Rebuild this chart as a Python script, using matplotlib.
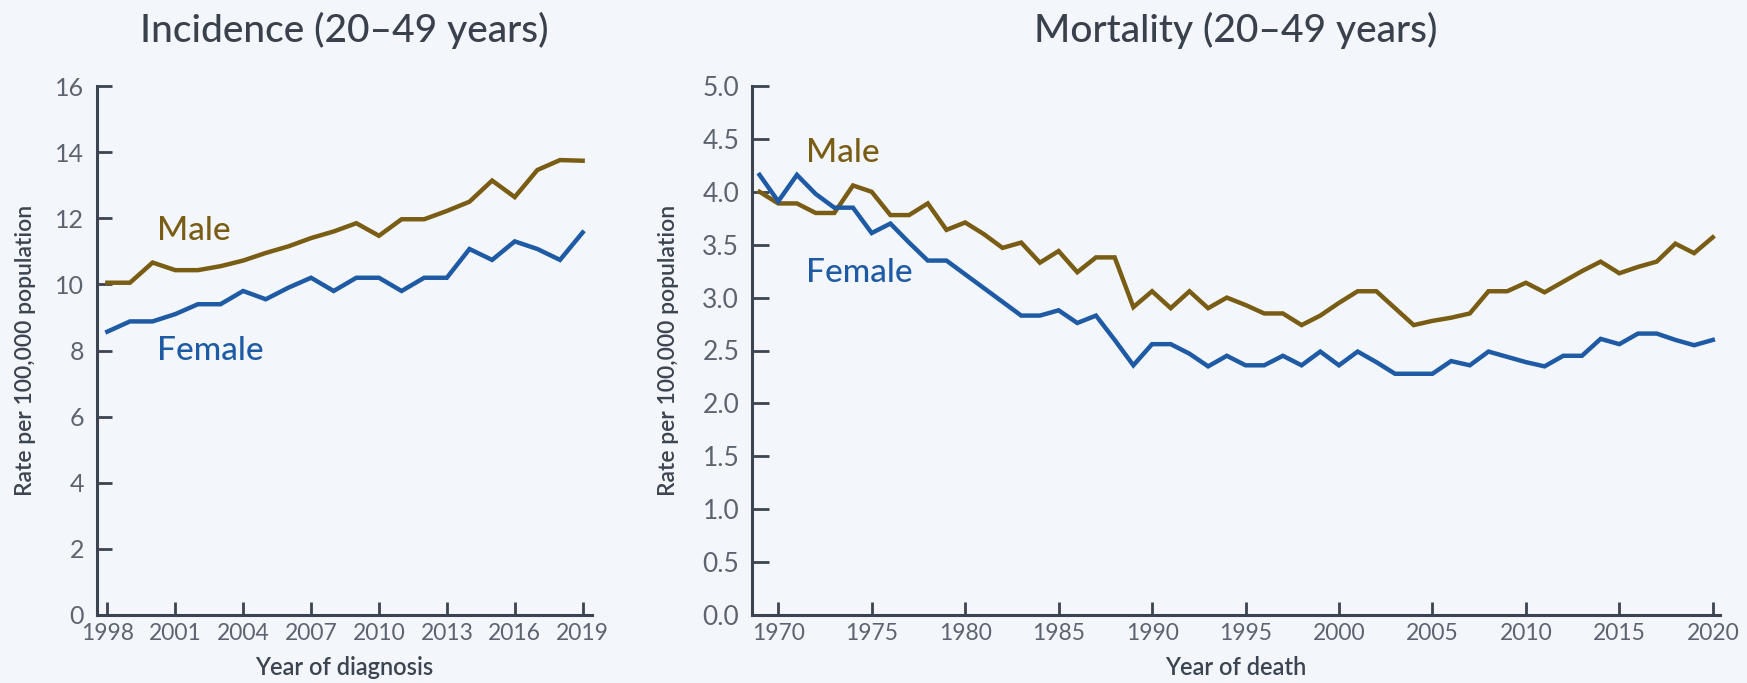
import matplotlib
matplotlib.use("Agg")
import matplotlib.pyplot as plt
from matplotlib.ticker import FixedLocator, FormatStrFormatter

# ==========================================================
# DATA
# ==========================================================

inc_years = list(range(1998, 2020))
inc_male = [10.05, 10.05, 10.66, 10.43, 10.43, 10.55, 10.72, 10.95, 11.15, 11.4, 11.6,
            11.85, 11.47, 11.97, 11.97, 12.22, 12.5, 13.14, 12.64, 13.46, 13.76, 13.74]
inc_female = [8.57, 8.88, 8.88, 9.1, 9.4, 9.4, 9.8, 9.55, 9.9, 10.2, 9.8,
              10.2, 10.2, 9.8, 10.2, 10.2, 11.07, 10.74, 11.3, 11.07, 10.74, 11.57]
inc_xticks = [1998, 2001, 2004, 2007, 2010, 2013, 2016, 2019]
inc_yticks = [0, 2, 4, 6, 8, 10, 12, 14, 16]

mort_years = list(range(1969, 2021))
mort_male = [4.0, 3.89, 3.89, 3.80, 3.80, 4.06, 4.0, 3.78, 3.78, 3.89, 3.64, 3.71,
             3.6, 3.47, 3.52, 3.33, 3.44, 3.24, 3.38, 3.38, 2.91, 3.06,
             2.90, 3.06, 2.90, 3.0, 2.93, 2.85, 2.85, 2.74, 2.83, 2.95,
             3.06, 3.06, 2.90, 2.74, 2.78, 2.81, 2.85, 3.06, 3.06, 3.14,
             3.05, 3.15, 3.25, 3.34, 3.23, 3.29, 3.34, 3.51, 3.42, 3.57]
mort_female = [4.16, 3.91, 4.16, 3.98, 3.85, 3.85, 3.61, 3.70, 3.52, 3.35, 3.35, 3.22,
               3.09, 2.96, 2.83, 2.83, 2.88, 2.76, 2.83, 2.6, 2.36, 2.56,
               2.56, 2.47, 2.35, 2.45, 2.36, 2.36, 2.45, 2.36, 2.49, 2.36,
               2.49, 2.39, 2.28, 2.28, 2.28, 2.40, 2.36, 2.49, 2.44, 2.39,
               2.35, 2.45, 2.45, 2.61, 2.56, 2.66, 2.66, 2.60, 2.55, 2.60]
mort_xticks = [1970, 1975, 1980, 1985, 1990, 1995, 2000, 2005, 2010, 2015, 2020]
mort_yticks = [0.0, 0.5, 1.0, 1.5, 2.0, 2.5, 3.0, 3.5, 4.0, 4.5, 5.0]

# ==========================================================
# STYLE
# ==========================================================

BG = "#f3f7fb"
MALE = "#7a5d14"
FEMALE = "#1f5ba5"
AXIS = "#3d4451"
TICKTXT = "#5e646f"
TITLE = "#3a404c"
LW = 3.2

plt.rcParams["font.family"] = ["Lato", "DejaVu Sans"]


def style_axis(ax, xlim, ylim, xticks, yticks, yfmt, ysize, ytick_len):
    ax.set_facecolor(BG)
    ax.set_xlim(*xlim)
    ax.set_ylim(*ylim)
    for side in ["top", "right"]:
        ax.spines[side].set_visible(False)
    for side in ["left", "bottom"]:
        ax.spines[side].set_color(AXIS)
        ax.spines[side].set_linewidth(2.2)
    ax.xaxis.set_major_locator(FixedLocator(xticks))
    ax.yaxis.set_major_locator(FixedLocator(yticks))
    if yfmt:
        ax.yaxis.set_major_formatter(FormatStrFormatter(yfmt))
    ax.tick_params(axis="x", direction="in", length=9.5, width=2, color=AXIS,
                   labelsize=16.5, labelcolor=TICKTXT, pad=6)
    ax.tick_params(axis="y", direction="in", length=ytick_len, width=2, color=AXIS,
                   labelsize=ysize, labelcolor=TICKTXT, pad=9)


def add_labels(ax, xlabel, ylab_x):
    ax.set_xlabel(xlabel, fontsize=17, color=AXIS, fontweight="semibold")
    ax.xaxis.set_label_coords(0.5, -0.078)
    ax.set_ylabel("Rate per 100,000 population", fontsize=16.5, color=AXIS,
                  fontweight="semibold")
    ax.yaxis.set_label_coords(ylab_x, 0.5)


fig = plt.figure(figsize=(17.47, 6.83), dpi=100, facecolor=BG)

# Incidence
ax1 = fig.add_axes([96.7 / 1747, 68 / 683, 495 / 1747, 529 / 683])
ax1.plot(inc_years, inc_male, color=MALE, lw=LW, solid_joinstyle="miter")
ax1.plot(inc_years, inc_female, color=FEMALE, lw=LW, solid_joinstyle="miter")
style_axis(ax1, (1997.53, 2019.4), (0, 16), inc_xticks, inc_yticks, None, 18, 11)
ax1.text(2000.2, 11.6, "Male", color=MALE, fontsize=24, fontweight="medium",
         va="center", ha="left")
ax1.text(2000.2, 8.0, "Female", color=FEMALE, fontsize=24, fontweight="medium",
         va="center", ha="left")
add_labels(ax1, "Year of diagnosis", -0.122)

# Mortality
ax2 = fig.add_axes([751.7 / 1747, 68 / 683, 968 / 1747, 529 / 683])
ax2.plot(mort_years, mort_male, color=MALE, lw=LW, solid_joinstyle="miter")
ax2.plot(mort_years, mort_female, color=FEMALE, lw=LW, solid_joinstyle="miter")
style_axis(ax2, (1968.58, 2020.37), (0, 5), mort_xticks, mort_yticks, "%.1f", 19, 12)
ax2.text(1971.5, 4.37, "Male", color=MALE, fontsize=24, fontweight="medium",
         va="center", ha="left")
ax2.text(1971.5, 3.23, "Female", color=FEMALE, fontsize=24, fontweight="medium",
         va="center", ha="left")
add_labels(ax2, "Year of death", -0.075)

fig.text(344 / 1747, 1 - 30 / 683, "Incidence (20\u201349 years)", fontsize=28,
         fontweight="medium", color=TITLE, ha="center", va="center")
fig.text(1236 / 1747, 1 - 30 / 683, "Mortality (20\u201349 years)", fontsize=28,
         fontweight="medium", color=TITLE, ha="center", va="center")

fig.savefig("out.png", dpi=100, facecolor=BG)
